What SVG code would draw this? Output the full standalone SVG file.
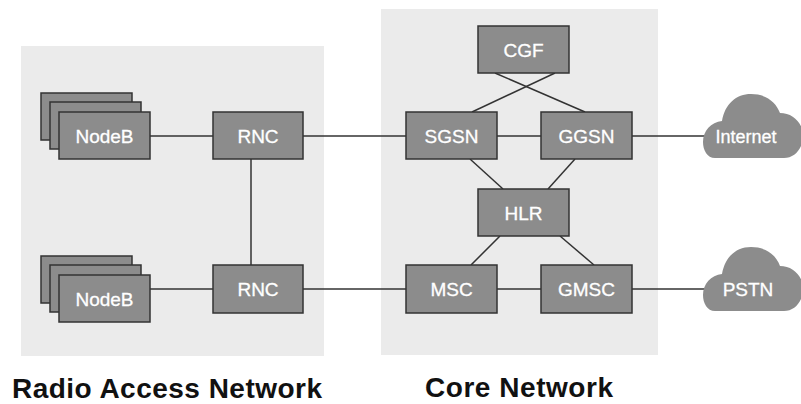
<svg xmlns="http://www.w3.org/2000/svg" width="801" height="404" viewBox="0 0 801 404">
<style>
.bg{fill:#ebebeb}
.node{fill:#8c8c8c;stroke:#333;stroke-width:1.5}
.cloud{fill:#8c8c8c}
.lbl{font-family:"Liberation Sans",Arial,sans-serif;font-size:19px;fill:#fff;text-anchor:middle;stroke:#fff;stroke-width:0.3}
.title{font-family:"Liberation Sans",Arial,sans-serif;font-size:28px;font-weight:bold;fill:#111}
.conn line{stroke:#333;stroke-width:1.5}
</style>
<rect width="801" height="404" fill="#fff"/>
<rect id="ran-area" class="bg" x="21" y="46" width="303" height="310"/>
<rect id="core-area" class="bg" x="381" y="9" width="277" height="346"/>
<g class="conn" id="connectors">
<line x1="150" y1="136" x2="213" y2="136"/>
<line x1="303" y1="136" x2="406" y2="136"/>
<line x1="251" y1="159" x2="251" y2="265"/>
<line x1="150" y1="289" x2="213" y2="289"/>
<line x1="303" y1="289" x2="406" y2="289"/>
<line x1="495" y1="73" x2="585" y2="112"/>
<line x1="555" y1="73" x2="472" y2="112"/>
<line x1="497" y1="136" x2="541" y2="136"/>
<line x1="632" y1="136" x2="706" y2="136"/>
<line x1="470" y1="159" x2="503" y2="189"/>
<line x1="575" y1="159" x2="548" y2="189"/>
<line x1="500" y1="236" x2="471" y2="265"/>
<line x1="560" y1="236" x2="594" y2="265"/>
<line x1="497" y1="289" x2="541" y2="289"/>
<line x1="632" y1="289" x2="706" y2="289"/>
</g>
<g id="nodeb1">
<rect class="node" x="41" y="93" width="91" height="47"/>
<rect class="node" x="50" y="102" width="91" height="47"/>
<rect class="node" x="59" y="112" width="91" height="47"/>
<text class="lbl" x="104.5" y="142.5">NodeB</text>
</g>
<g id="nodeb2">
<rect class="node" x="41" y="256" width="91" height="47"/>
<rect class="node" x="50" y="265" width="91" height="47"/>
<rect class="node" x="59" y="275" width="91" height="47"/>
<text class="lbl" x="104.5" y="305.5">NodeB</text>
</g>
<g id="rnc1"><rect class="node" x="213" y="112" width="90" height="47"/><text class="lbl" x="258" y="142.5">RNC</text></g>
<g id="rnc2"><rect class="node" x="213" y="265" width="90" height="48"/><text class="lbl" x="258" y="296">RNC</text></g>
<g id="cgf"><rect class="node" x="478" y="26" width="91" height="47"/><text class="lbl" x="523.5" y="56.5">CGF</text></g>
<g id="sgsn"><rect class="node" x="406" y="112" width="91" height="47"/><text class="lbl" x="451.5" y="142.5">SGSN</text></g>
<g id="ggsn"><rect class="node" x="541" y="112" width="91" height="47"/><text class="lbl" x="586.5" y="142.5">GGSN</text></g>
<g id="hlr"><rect class="node" x="478" y="189" width="91" height="47"/><text class="lbl" x="523.5" y="219.5">HLR</text></g>
<g id="msc"><rect class="node" x="406" y="265" width="91" height="48"/><text class="lbl" x="451.5" y="296">MSC</text></g>
<g id="gmsc"><rect class="node" x="541" y="265" width="91" height="48"/><text class="lbl" x="586.5" y="296">GMSC</text></g>
<g id="internet">
<path class="cloud" d="M715 158 C707 158 703 150 703 142 C703 131 711 122 722 121 C725 104 736 94 751 94 C766 94 776 102 780 113 C793 113 803 123 803 136 C803 148 795 158 784 158 Z"/>
<text class="lbl" x="746" y="143" style="font-size:18px">Internet</text>
</g>
<g id="pstn">
<path class="cloud" d="M715 311 C707 311 703 303 703 295 C703 284 711 275 722 274 C725 257 736 247 751 247 C766 247 776 255 780 266 C793 266 803 276 803 289 C803 301 795 311 784 311 Z"/>
<text class="lbl" x="748" y="296">PSTN</text>
</g>
<text class="title" x="12" y="398" textLength="310">Radio Access Network</text>
<text class="title" x="425" y="397" textLength="188">Core Network</text>
</svg>
